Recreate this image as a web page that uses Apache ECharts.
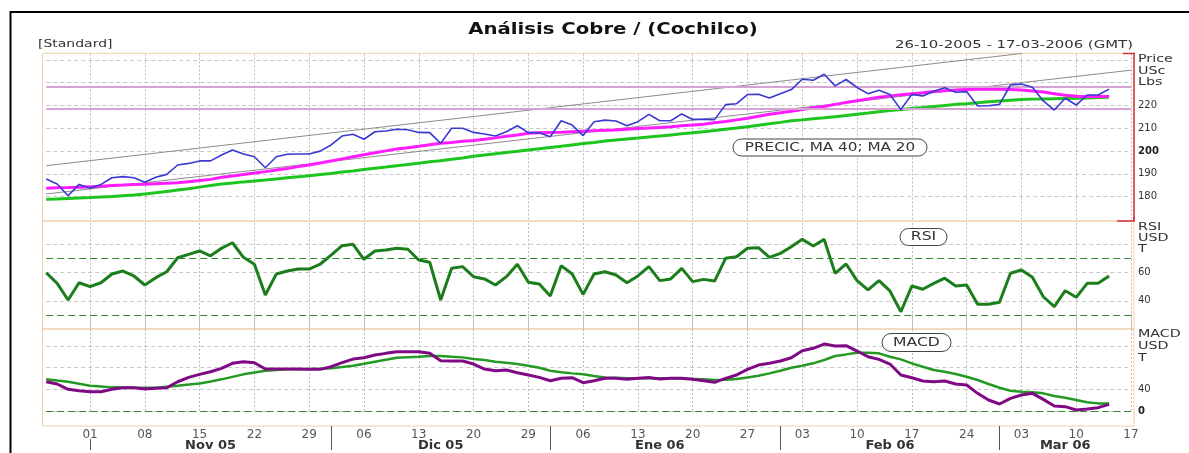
<!DOCTYPE html>
<html>
<head>
<meta charset="utf-8">
<script src="https://cdn.jsdelivr.net/npm/echarts@6.0.0/dist/echarts.min.js"></script>
<style>
html,body{margin:0;padding:0;background:#fff;}
#chart{width:1189px;height:453px;}
</style>
</head>
<body>
<div id="chart"></div>
<script>
// ---------------- DATA ----------------
const categories = [
'2005-10-26','2005-10-27','2005-10-28','2005-10-31',
'2005-11-01','2005-11-02','2005-11-03','2005-11-04','2005-11-07','2005-11-08','2005-11-09','2005-11-10','2005-11-11',
'2005-11-14','2005-11-15','2005-11-16','2005-11-17','2005-11-18','2005-11-21','2005-11-22','2005-11-23','2005-11-24',
'2005-11-25','2005-11-28','2005-11-29','2005-11-30',
'2005-12-01','2005-12-02','2005-12-05','2005-12-06','2005-12-07','2005-12-08','2005-12-09','2005-12-12','2005-12-13',
'2005-12-14','2005-12-15','2005-12-16','2005-12-19','2005-12-20','2005-12-21','2005-12-22','2005-12-23','2005-12-28',
'2005-12-29','2005-12-30',
'2006-01-03','2006-01-04','2006-01-05','2006-01-06','2006-01-09','2006-01-10','2006-01-11','2006-01-12','2006-01-13',
'2006-01-16','2006-01-17','2006-01-18','2006-01-19','2006-01-20','2006-01-23','2006-01-24','2006-01-25','2006-01-26',
'2006-01-27','2006-01-30','2006-01-31',
'2006-02-01','2006-02-02','2006-02-03','2006-02-06','2006-02-07','2006-02-08','2006-02-09','2006-02-10','2006-02-13',
'2006-02-14','2006-02-15','2006-02-16','2006-02-17','2006-02-20','2006-02-21','2006-02-22','2006-02-23','2006-02-24',
'2006-02-27','2006-02-28',
'2006-03-01','2006-03-02','2006-03-03','2006-03-06','2006-03-07','2006-03-08','2006-03-09','2006-03-10','2006-03-13',
'2006-03-14','2006-03-15','2006-03-16','2006-03-17'
];

const price = [
187.8,185.6,180.4,185.4,183.7,185.4,188.3,188.8,188.3,186.3,
188.5,189.8,193.9,194.6,195.7,195.7,198.3,200.5,198.7,197.5,
192.7,197.5,198.6,198.7,198.7,200.0,202.7,206.6,207.4,205.2,
208.5,208.8,209.6,209.4,208.2,208.1,203.4,210.0,210.0,208.2,
207.5,206.6,208.5,211.1,208.1,208.1,206.3,213.3,211.4,206.8,
212.9,213.6,213.2,211.1,212.9,216.1,213.3,213.3,216.3,213.9,
213.9,213.8,220.4,220.8,224.8,224.9,223.3,225.2,227.0,231.5,
231.1,233.7,228.6,231.4,227.9,225.2,226.7,224.8,218.2,224.9,
224.2,226.3,227.8,225.8,226.1,219.8,219.9,220.5,229.0,229.4,
228.0,222.0,218.0,223.2,220.2,224.6,224.6,227.2
];

const ma20 = [
183.7,183.9,184.0,184.2,184.4,184.6,184.9,185.1,185.4,185.5,
185.7,185.9,186.1,186.6,187.1,187.6,188.5,189.1,189.7,190.4,
191.0,191.7,192.4,193.2,193.9,194.8,195.7,196.6,197.5,198.4,
199.3,200.1,200.9,201.5,202.1,202.8,203.4,203.8,204.3,204.7,
205.2,205.8,206.5,207.1,207.8,208.0,208.2,208.3,208.5,208.7,
208.9,209.1,209.3,209.6,209.9,210.1,210.4,210.7,211.1,211.4,
211.8,212.4,213.0,213.7,214.4,215.3,216.2,216.8,217.5,218.2,
219.0,219.6,220.5,221.3,222.1,222.9,223.6,224.2,224.7,225.2,
225.6,226.1,226.5,226.8,227.0,227.1,227.1,227.1,227.0,226.8,
226.4,225.9,225.2,224.5,224.1,224.0,223.9,223.9
];

const ma40 = [
178.9,179.0,179.2,179.4,179.6,179.9,180.1,180.4,180.7,181.2,
181.7,182.3,182.9,183.5,184.2,184.9,185.6,186.0,186.5,186.9,
187.3,187.8,188.3,188.7,189.2,189.7,190.2,190.8,191.3,191.9,
192.5,193.0,193.6,194.1,194.7,195.3,195.8,196.4,197.0,197.7,
198.3,198.8,199.4,199.9,200.5,201.0,201.6,202.1,202.7,203.3,
203.8,204.4,204.9,205.3,205.7,206.2,206.6,207.1,207.6,208.0,
208.5,209.0,209.6,210.1,210.7,211.3,212.0,212.6,213.3,213.7,
214.2,214.6,215.1,215.6,216.2,216.7,217.3,217.8,218.2,218.7,
219.1,219.6,220.0,220.5,220.8,221.2,221.6,222.0,222.3,222.6,
222.8,222.9,223.0,223.1,223.2,223.3,223.5,223.6
];

const rsi = [
59.9,52.4,40.6,52.8,50.0,52.8,59.0,61.1,57.6,51.2,
56.4,60.6,70.5,72.9,75.3,71.9,77.2,81.1,70.8,65.9,
44.1,59.0,61.1,62.5,62.5,65.9,72.4,79.0,80.0,69.4,
75.3,76.0,77.2,76.5,68.9,67.3,40.6,63.0,64.2,57.1,
55.5,51.2,57.1,65.9,53.1,51.9,43.4,64.9,59.0,44.6,
59.0,60.6,58.3,52.8,57.6,64.2,54.3,55.5,63.0,53.6,
55.2,54.0,70.1,71.2,77.2,77.6,70.8,73.6,78.3,83.5,
78.8,83.5,59.5,66.1,54.3,47.7,54.3,47.0,32.3,50.5,
48.2,52.4,56.0,50.5,51.2,37.6,37.6,39.0,59.5,61.8,
56.7,42.9,35.9,47.2,42.5,52.4,52.4,57.6
];

const macd = [
54.0,49.8,40.0,37.5,35.6,35.6,40.0,43.0,43.0,40.6,
41.8,43.0,54.0,62.0,67.6,72.5,78.7,87.9,90.9,89.1,
77.4,77.4,77.4,77.4,76.8,76.8,81.7,89.1,95.8,98.3,
103.2,106.3,109.3,109.3,109.3,106.3,92.8,92.2,92.2,86.6,
77.4,74.3,75.6,70.6,66.4,62.0,55.9,60.3,61.4,52.2,
55.9,60.3,60.3,58.4,60.3,62.0,59.0,60.3,60.3,58.4,
55.9,52.9,60.3,66.4,76.8,84.8,87.9,92.2,98.3,111.2,
115.6,123.5,119.8,120.4,110.6,100.1,95.2,86.6,66.4,61.4,
55.3,54.0,55.3,49.8,47.9,32.6,20.3,12.9,23.3,29.5,
32.6,21.5,9.2,8.0,1.8,3.7,6.2,12.3
];

const macdSignal = [
58.4,56.2,54.0,50.3,46.6,45.1,43.6,43.3,43.0,43.0,
43.0,44.8,46.6,48.7,50.9,54.6,58.4,63.0,67.6,71.0,
74.3,75.5,76.8,77.1,77.4,78.0,78.7,81.1,83.6,87.2,
90.9,94.6,98.3,99.2,100.1,101.4,101.4,100.1,98.9,95.8,
94.0,90.9,89.1,86.6,83.6,79.9,74.3,71.3,69.4,67.6,
64.5,62.0,61.4,60.3,60.3,60.3,60.3,60.3,59.6,59.0,
58.4,57.1,57.7,59.0,62.0,65.1,69.4,74.3,79.9,83.6,
87.9,94.0,101.4,104.4,107.5,107.5,106.3,100.1,95.2,87.9,
81.7,75.6,72.5,68.2,63.3,57.1,49.8,43.0,37.5,35.6,
34.4,32.6,27.6,24.6,20.3,16.0,14.1,14.1
];

const upperTrend = [[0, 193.6], [89, 242.8]];
const lowerTrend = [[0, 181.2], [99, 235.5]];
const priceLevels = [228.2, 218.5];
const rsiLevels = [70, 30];
const macdLevels = [0];

const priceTickLabels = [180, 190, 200, 210, 220];
const rsiTickLabels = [40, 60];
const macdTickLabels = [0, 40];
const boldPriceTicks = [200];
const boldMacdTicks = [0];
const monthLabels = ['Nov 05', 'Dic 05', 'Ene 06', 'Feb 06', 'Mar 06'];
const dayTickStart = 4, dayTickStep = 5;

// ---------------- HELPERS ----------------
const FONT = 'DejaVu Sans';
const isDayTick = i => i >= dayTickStart && (i - dayTickStart) % dayTickStep === 0;
const monthStarts = [];
for (let i = 1; i < categories.length; i++) {
  if (categories[i].slice(5, 7) !== categories[i - 1].slice(5, 7)) monthStarts.push(i);
}
const monthMid = {};
monthStarts.forEach((s, k) => {
  const e = k + 1 < monthStarts.length ? monthStarts[k + 1] : categories.length - 1;
  monthMid[Math.floor((s + e) / 2)] = monthLabels[k];
});
const longSep = monthStarts.filter(i => !isDayTick(i));
const shortSep = monthStarts.filter(i => isDayTick(i));

function yLabel(list, bold) {
  return function (v) {
    const r = Math.round(v * 100) / 100;
    if (list.indexOf(r) < 0) return '';
    return bold.indexOf(r) >= 0 ? '{b|' + r + '}' : String(r);
  };
}
const yLabelStyle = {
  fontFamily: FONT, fontSize: 10, color: '#333', margin: 4,
  rich: { b: { fontFamily: FONT, fontSize: 10, fontWeight: 'bold', color: '#222' } }
};
function hSplit() {
  return { show: true, showMinLine: false, showMaxLine: false,
    lineStyle: { color: '#c9c9c9', width: 1, type: [4, 3] } };
}

const panelHeights = [166.2, 108.1, 97];

// vertical weekly gridlines drawn as full-height inside ticks of each panel's date axis
function baseX(grid) {
  return { type: 'category', gridIndex: grid, data: categories, boundaryGap: false, position: 'bottom',
    axisLine: { show: false },
    axisTick: { show: true, inside: true, length: panelHeights[grid], interval: (i) => isDayTick(i),
      lineStyle: { color: '#bdbdbd', width: 1, type: [2, 2] } },
    axisLabel: { show: false },
    splitLine: { show: false } };
}
function levelLines(vals, color, width, type) {
  return { silent: true, symbol: ['none', 'none'], label: { show: false }, animation: false,
    lineStyle: { color: color, width: width, type: type },
    data: vals.map(v => ({ yAxis: v })) };
}

const dataLeft = 46.2, dataRight = 1189 - 1131;
const frameLeft = 42.5, frameRight = 1189 - 1134;

const option = {
  animation: false,
  backgroundColor: '#fff',
  grid: [
    { left: dataLeft, right: dataRight, top: 53.3, height: panelHeights[0] },
    { left: dataLeft, right: dataRight, top: 221, height: panelHeights[1] },
    { left: dataLeft, right: dataRight, top: 329, height: panelHeights[2] },
    { left: frameLeft, right: frameRight, top: 53.3, height: 167.7, show: true, borderColor: '#f0cfae', borderWidth: 1, backgroundColor: 'transparent' },
    { left: frameLeft, right: frameRight, top: 221, height: 108, show: true, borderColor: '#f0cfae', borderWidth: 1, backgroundColor: 'transparent' },
    { left: frameLeft, right: frameRight, top: 329, height: 97, show: true, borderColor: '#f0cfae', borderWidth: 1, backgroundColor: 'transparent' }
  ],
  xAxis: [
    baseX(0),
    baseX(1),
    Object.assign(baseX(2), {
      axisLabel: { show: true, interval: (i) => isDayTick(i), margin: 3,
        formatter: (v) => v.slice(8), fontFamily: FONT, fontSize: 12, color: '#555' }
    }),
    { type: 'category', gridIndex: 2, data: categories, boundaryGap: false, position: 'bottom',
      axisLine: { show: false }, axisLabel: { show: false }, splitLine: { show: false },
      axisTick: { show: true, interval: (i) => longSep.indexOf(i) >= 0, length: 24,
        lineStyle: { color: '#555', width: 1 } } },
    { type: 'category', gridIndex: 2, data: categories, boundaryGap: false, position: 'bottom', offset: 13,
      axisLine: { show: false }, splitLine: { show: false },
      axisTick: { show: true, interval: (i) => shortSep.indexOf(i) >= 0, length: 11,
        lineStyle: { color: '#555', width: 1 } },
      axisLabel: { show: true, interval: (i) => monthMid[i] !== undefined, margin: 0,
        formatter: (v) => { const i = categories.indexOf(v); return monthMid[i] || ''; },
        fontFamily: FONT, fontSize: 13, fontWeight: 'bold', color: '#333' } }
  ],
  yAxis: [
    { type: 'value', gridIndex: 0, position: 'right', offset: 3, min: 170, max: 242.9, interval: 10,
      axisLine: { show: true, lineStyle: { color: '#cc3340', width: 1.5 } }, axisTick: { show: false },
      axisLabel: Object.assign({ formatter: yLabel(priceTickLabels, boldPriceTicks) }, yLabelStyle),
      splitLine: hSplit() },
    { type: 'value', gridIndex: 1, position: 'right', offset: 3, min: 20, max: 96.5, interval: 20,
      axisLine: { show: false }, axisTick: { show: false },
      axisLabel: Object.assign({ formatter: yLabel(rsiTickLabels, []) }, yLabelStyle),
      splitLine: hSplit() },
    { type: 'value', gridIndex: 2, position: 'right', offset: 3, min: -27.6, max: 151.2,
      minInterval: 40, maxInterval: 40,
      axisLine: { show: false }, axisTick: { show: false },
      axisLabel: Object.assign({ formatter: yLabel(macdTickLabels, boldMacdTicks) }, yLabelStyle),
      splitLine: hSplit() }
  ],
  series: [
    { name: 'Upper trend', type: 'line', xAxisIndex: 0, yAxisIndex: 0, data: upperTrend,
      symbol: 'none', clip: true, z: 2, lineStyle: { color: '#8c8c8c', width: 1 } },
    { name: 'Lower trend', type: 'line', xAxisIndex: 0, yAxisIndex: 0, data: lowerTrend,
      symbol: 'none', clip: true, z: 2, lineStyle: { color: '#8c8c8c', width: 1 } },
    { name: 'MA 40', type: 'line', xAxisIndex: 0, yAxisIndex: 0, data: ma40, symbol: 'none', z: 3,
      lineStyle: { color: '#1fc51f', width: 3 },
      markLine: levelLines(priceLevels, '#d6a2d2', 2, 'solid') },
    { name: 'MA 20', type: 'line', xAxisIndex: 0, yAxisIndex: 0, data: ma20, symbol: 'none', z: 4,
      lineStyle: { color: '#ff1cff', width: 3 } },
    { name: 'PRECIO', type: 'line', xAxisIndex: 0, yAxisIndex: 0, data: price, symbol: 'none', z: 5,
      lineStyle: { color: '#3838d2', width: 1.6 } },
    { name: 'RSI', type: 'line', xAxisIndex: 1, yAxisIndex: 1, data: rsi, symbol: 'none', z: 4,
      lineStyle: { color: '#1b7d1b', width: 3 },
      markLine: levelLines(rsiLevels, '#2f8a2f', 1, [7, 4]) },
    { name: 'Signal', type: 'line', xAxisIndex: 2, yAxisIndex: 2, data: macdSignal, symbol: 'none', z: 3,
      lineStyle: { color: '#249a24', width: 2.5 },
      markLine: levelLines(macdLevels, '#2f8a2f', 1, [7, 4]) },
    { name: 'MACD', type: 'line', xAxisIndex: 2, yAxisIndex: 2, data: macd, symbol: 'none', z: 4,
      lineStyle: { color: '#800a85', width: 3 } }
  ],
  graphic: [
    { type: 'rect', shape: { x: 10.5, y: 12, width: 1200, height: 460 },
      style: { fill: 'none', stroke: '#000', lineWidth: 2 }, silent: true },
    { type: 'text', x: 613, y: 30, scaleX: 1.23,
      style: { text: 'Análisis Cobre / (Cochilco)', font: 'bold 16px "DejaVu Sans"', fill: '#111',
        textAlign: 'center', textVerticalAlign: 'middle' } },
    { type: 'text', x: 38, y: 44.5, scaleX: 1.27,
      style: { text: '[Standard]', font: '11px "DejaVu Sans"', fill: '#333',
        textAlign: 'left', textVerticalAlign: 'middle' } },
    { type: 'text', x: 1133, y: 45.5, scaleX: 1.355,
      style: { text: '26-10-2005 - 17-03-2006 (GMT)', font: '11px "DejaVu Sans"', fill: '#333',
        textAlign: 'right', textVerticalAlign: 'middle' } },
    { type: 'text', x: 1138, y: 59.5, scaleX: 1.3,
      style: { text: 'Price', font: '11px "DejaVu Sans"', fill: '#333', textAlign: 'left', textVerticalAlign: 'middle' } },
    { type: 'text', x: 1138, y: 71, scaleX: 1.3,
      style: { text: 'USc', font: '11px "DejaVu Sans"', fill: '#333', textAlign: 'left', textVerticalAlign: 'middle' } },
    { type: 'text', x: 1138, y: 82.5, scaleX: 1.3,
      style: { text: 'Lbs', font: '11px "DejaVu Sans"', fill: '#333', textAlign: 'left', textVerticalAlign: 'middle' } },
    { type: 'text', x: 1138, y: 226.7, scaleX: 1.3,
      style: { text: 'RSI', font: '11px "DejaVu Sans"', fill: '#333', textAlign: 'left', textVerticalAlign: 'middle' } },
    { type: 'text', x: 1138, y: 238.3, scaleX: 1.3,
      style: { text: 'USD', font: '11px "DejaVu Sans"', fill: '#333', textAlign: 'left', textVerticalAlign: 'middle' } },
    { type: 'text', x: 1138, y: 249.5, scaleX: 1.3,
      style: { text: 'T', font: '11px "DejaVu Sans"', fill: '#333', textAlign: 'left', textVerticalAlign: 'middle' } },
    { type: 'text', x: 1138, y: 334.5, scaleX: 1.3,
      style: { text: 'MACD', font: '11px "DejaVu Sans"', fill: '#333', textAlign: 'left', textVerticalAlign: 'middle' } },
    { type: 'text', x: 1138, y: 346, scaleX: 1.3,
      style: { text: 'USD', font: '11px "DejaVu Sans"', fill: '#333', textAlign: 'left', textVerticalAlign: 'middle' } },
    { type: 'text', x: 1138, y: 357.7, scaleX: 1.3,
      style: { text: 'T', font: '11px "DejaVu Sans"', fill: '#333', textAlign: 'left', textVerticalAlign: 'middle' } },
    { type: 'rect', shape: { x: 733, y: 139, width: 194, height: 17, r: 8.5 }, z: 10,
      style: { fill: '#fff', stroke: '#444', lineWidth: 1 } },
    { type: 'text', x: 830, y: 147.5, scaleX: 1.27, z: 11,
      style: { text: 'PRECIC, MA 40; MA 20', font: '12px "DejaVu Sans"', fill: '#333',
        textAlign: 'center', textVerticalAlign: 'middle' } },
    { type: 'rect', shape: { x: 900, y: 228.5, width: 47, height: 17, r: 8.5 }, z: 10,
      style: { fill: '#fff', stroke: '#444', lineWidth: 1 } },
    { type: 'text', x: 923.5, y: 237, scaleX: 1.3, z: 11,
      style: { text: 'RSI', font: '12px "DejaVu Sans"', fill: '#333',
        textAlign: 'center', textVerticalAlign: 'middle' } },
    { type: 'rect', shape: { x: 882, y: 333.5, width: 69, height: 18, r: 9 }, z: 10,
      style: { fill: '#fff', stroke: '#444', lineWidth: 1 } },
    { type: 'text', x: 916.5, y: 342.5, scaleX: 1.3, z: 11,
      style: { text: 'MACD', font: '12px "DejaVu Sans"', fill: '#333',
        textAlign: 'center', textVerticalAlign: 'middle' } },
    { type: 'polyline', shape: { points: [[1123, 53.5], [1134, 53.5]] }, z: 12,
      style: { stroke: '#cc3340', lineWidth: 1.5, fill: 'none' } },
    { type: 'polyline', shape: { points: [[1117, 221], [1134, 221], [1134, 217]] }, z: 12,
      style: { stroke: '#cc3340', lineWidth: 1.5, fill: 'none' } }
  ]
};

const chart = echarts.init(document.getElementById('chart'), null, { renderer: 'canvas' });
chart.setOption(option);
</script>
</body>
</html>
